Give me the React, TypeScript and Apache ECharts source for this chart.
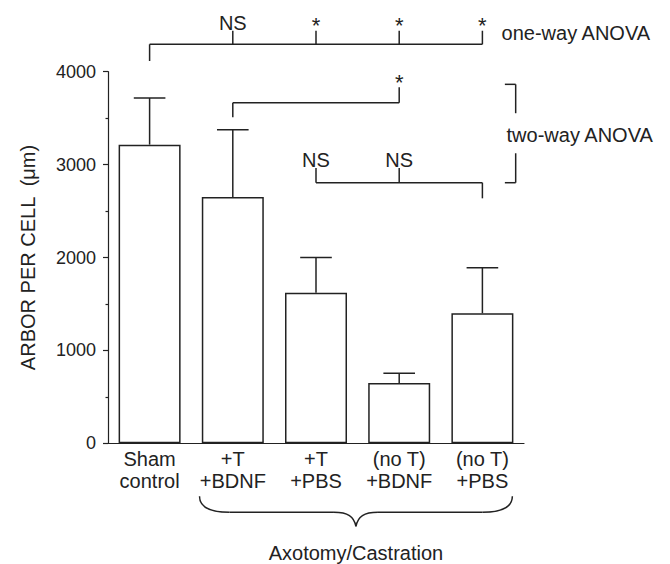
import React, { useEffect, useRef } from "react";
import * as echarts from "echarts";

// ---- data ----
const categories = ["Sham\ncontrol", "+T\n+BDNF", "+T\n+PBS", "(no T)\n+BDNF", "(no T)\n+PBS"];
const means = [3215, 2650, 1620, 650, 1400];
const errors = [502, 726, 380, 105, 490];
const yTicks = [0, 1000, 2000, 3000, 4000];

// significance annotations (category indices, levels in axis units)
const oneWayLabels = ["NS", "*", "*", "*"]; // vs Sham, at categories 1..4
const oneWayLevels = { line: 4295, leg: 4115, tick: 4441 };
const bracketBdnf = { from: 1, to: 3, line: 3666, leg: 3509, tick: 3832, label: "*" };
const bracketNoT = { from: 2, mid: 3, to: 4, line: 2805, tick: 2963, leg: 2637, labels: ["NS", "NS"] };
const twoWayBracket = { x: 4.4, tab: 4.27, top: 3864, bottom: 2805, gapTop: 3553, gapBottom: 3122, textX: 4.29, textY: 3318 };
const oneWayText = { x: 4.23, y: 4415 };
const yAxisName = "ARBOR PER CELL  (μm)";
const groupName = "Axotomy/Castration";
const braceRange = { from: 0.6, to: 4.36 };

const INK = "#222";
const FONT = '"Liberation Sans", Arial, sans-serif';
const FS = 20;

export default function App() {
  const ref = useRef<HTMLDivElement>(null);
  useEffect(() => {
    document.body.style.margin = "0";
    const chart = echarts.init(ref.current!, null, { renderer: "svg" });

    const xAt = (api: any, f: number) => {
      const i = Math.min(Math.floor(f), categories.length - 1);
      const bw = api.size([1, 0])[0];
      return api.coord([i, 0])[0] + (f - i) * bw;
    };
    const yAt = (api: any, v: number) => api.coord([0, v])[1];

    const lineEl = (x1: number, y1: number, x2: number, y2: number) => ({
      type: "line",
      shape: { x1, y1, x2, y2 },
      style: { stroke: INK, lineWidth: 1.5 },
    });
    const textEl = (text: string, x: number, y: number, align: string, vAlign: string, size = FS) => ({
      type: "text",
      x,
      y,
      style: { text, fill: INK, fontSize: size, fontFamily: FONT, align, verticalAlign: vAlign },
    });

    const option: any = {
      animation: false,
      grid: { left: 108, right: 146, top: 71.7, bottom: 120.7, containLabel: false, outerBoundsMode: "none" },
      xAxis: {
        type: "category",
        data: categories,
        axisLine: { lineStyle: { color: INK, width: 1.2 } },
        axisTick: { show: false },
        axisLabel: { interval: 0, color: INK, fontSize: FS, lineHeight: 22, fontFamily: FONT, margin: 5 },
      },
      yAxis: {
        type: "value",
        min: yTicks[0],
        max: yTicks[yTicks.length - 1],
        interval: 1000,
        name: yAxisName,
        nameLocation: "middle",
        nameGap: 70,
        nameTextStyle: { color: INK, fontSize: FS, fontFamily: FONT },
        axisLine: { show: true, lineStyle: { color: INK, width: 1.2 } },
        axisTick: { show: true, length: 5, lineStyle: { color: INK, width: 1.2 } },
        minorTick: { show: true, splitNumber: 2, length: 2.5, lineStyle: { color: INK, width: 1.2 } },
        splitLine: { show: false },
        axisLabel: { color: INK, fontSize: 18, fontFamily: FONT, margin: 12, formatter: (v: number) => String(v) },
      },
      series: [
        {
          type: "bar",
          data: means,
          barWidth: 62,
          itemStyle: { color: "#fff", borderColor: INK, borderWidth: 1.5 },
          z: 2,
        },
        {
          type: "custom",
          z: 3,
          clip: false,
          data: means.map((m, i) => [i, m, m + errors[i]]),
          renderItem: (params: any, api: any) => {
            const i = api.value(0);
            const p0 = api.coord([i, api.value(1)]);
            const p1 = api.coord([i, api.value(2)]);
            const hw = api.size([1, 0])[0] * 0.19;
            return {
              type: "group",
              children: [lineEl(p0[0], p0[1], p1[0], p1[1]), lineEl(p1[0] - hw, p1[1], p1[0] + hw, p1[1])],
            };
          },
        },
        {
          type: "custom",
          z: 4,
          clip: false,
          silent: true,
          data: [[0, 0]],
          renderItem: (params: any, api: any) => {
            const ch: any[] = [];
            // one-way ANOVA bracket
            const yl = yAt(api, oneWayLevels.line);
            const x0 = xAt(api, 0);
            const x4 = xAt(api, 4);
            ch.push(lineEl(x0, yl, x4, yl));
            ch.push(lineEl(x0, yl, x0, yAt(api, oneWayLevels.leg)));
            const yt = yAt(api, oneWayLevels.tick);
            oneWayLabels.forEach((lab, k) => {
              const x = xAt(api, k + 1);
              ch.push(lineEl(x, yl, x, yt));
              if (lab === "*") ch.push(textEl(lab, x, yt + 6, "center", "bottom", 22));
              else ch.push(textEl(lab, x, yt + 2, "center", "bottom"));
            });
            ch.push(textEl("one-way ANOVA", xAt(api, oneWayText.x), yAt(api, oneWayText.y), "left", "middle"));

            // +T+BDNF vs (no T)+BDNF
            const b1y = yAt(api, bracketBdnf.line);
            const b1a = xAt(api, bracketBdnf.from);
            const b1b = xAt(api, bracketBdnf.to);
            ch.push(lineEl(b1a, b1y, b1b, b1y));
            ch.push(lineEl(b1a, b1y, b1a, yAt(api, bracketBdnf.leg)));
            const b1t = yAt(api, bracketBdnf.tick);
            ch.push(lineEl(b1b, b1y, b1b, b1t));
            ch.push(textEl(bracketBdnf.label, b1b, b1t + 6, "center", "bottom", 22));

            // no T bracket
            const b2y = yAt(api, bracketNoT.line);
            const b2a = xAt(api, bracketNoT.from);
            const b2m = xAt(api, bracketNoT.mid);
            const b2b = xAt(api, bracketNoT.to);
            const b2t = yAt(api, bracketNoT.tick);
            ch.push(lineEl(b2a, b2y, b2b, b2y));
            ch.push(lineEl(b2a, b2y, b2a, b2t));
            ch.push(lineEl(b2m, b2y, b2m, b2t));
            ch.push(lineEl(b2b, b2y, b2b, yAt(api, bracketNoT.leg)));
            ch.push(textEl(bracketNoT.labels[0], b2a, b2t + 2, "center", "bottom"));
            ch.push(textEl(bracketNoT.labels[1], b2m, b2t + 2, "center", "bottom"));

            // two-way ANOVA bracket
            const tx = xAt(api, twoWayBracket.x);
            const tt = xAt(api, twoWayBracket.tab);
            const ttop = yAt(api, twoWayBracket.top);
            const tbot = yAt(api, twoWayBracket.bottom);
            ch.push(lineEl(tt, ttop, tx, ttop));
            ch.push(lineEl(tx, ttop, tx, yAt(api, twoWayBracket.gapTop)));
            ch.push(lineEl(tx, yAt(api, twoWayBracket.gapBottom), tx, tbot));
            ch.push(lineEl(tt, tbot, tx, tbot));
            ch.push(textEl("two-way ANOVA", xAt(api, twoWayBracket.textX), yAt(api, twoWayBracket.textY), "left", "middle"));

            // brace under the axotomy groups
            const y0 = yAt(api, 0);
            const bl = xAt(api, braceRange.from);
            const br = xAt(api, braceRange.to);
            const bc = (bl + br) / 2;
            const yTip = y0 + 53;
            const yFlat = y0 + 69;
            const yCusp = y0 + 83;
            const curve = (x1: number, y1: number, cx1: number, cy1: number, cx2: number, cy2: number, x2: number, y2: number) => ({
              type: "bezierCurve",
              shape: { x1, y1, cpx1: cx1, cpy1: cy1, cpx2: cx2, cpy2: cy2, x2, y2 },
              style: { stroke: INK, lineWidth: 1.5, fill: "none" },
            });
            ch.push(curve(bl, yTip, bl, yFlat - 4, bl + 12, yFlat, bl + 30, yFlat));
            ch.push(lineEl(bl + 30, yFlat, bc - 22, yFlat));
            ch.push(curve(bc - 22, yFlat, bc - 8, yFlat, bc - 2, yFlat + 4, bc, yCusp));
            ch.push(curve(br, yTip, br, yFlat - 4, br - 12, yFlat, br - 30, yFlat));
            ch.push(lineEl(br - 30, yFlat, bc + 22, yFlat));
            ch.push(curve(bc + 22, yFlat, bc + 8, yFlat, bc + 2, yFlat + 4, bc, yCusp));
            ch.push(textEl(groupName, bc, y0 + 110, "center", "middle"));

            return { type: "group", children: ch };
          },
        },
      ],
    };
    chart.setOption(option);
    return () => chart.dispose();
  }, []);
  return <div ref={ref} style={{ width: 670, height: 564 }} />;
}
